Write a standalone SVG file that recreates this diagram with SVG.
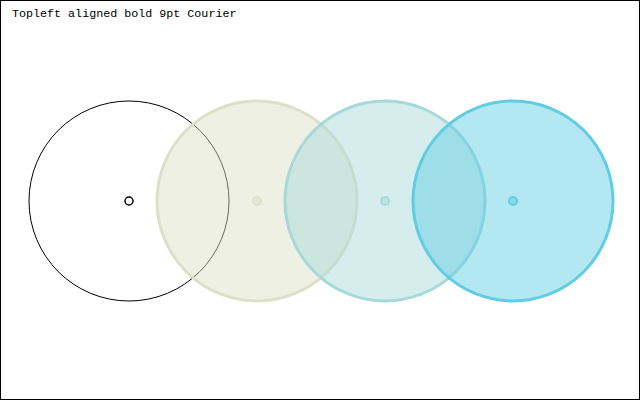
<svg xmlns="http://www.w3.org/2000/svg" width="640" height="400" viewBox="0 0 640 400">
<style>
.t{font-family:"Liberation Mono","Courier New",monospace;font-size:11.7px;fill:#000}
.c1{fill:none;stroke:#000;stroke-width:1}
.d1{fill:#fff;stroke:#000;stroke-width:1.5}
.big{stroke-width:3;fill-opacity:0.48}
.dot{stroke-width:2;fill-opacity:0.48}
.k2{fill:#dce0c7;stroke:#dce0c7}
.k3{fill:#a7d9d9;stroke:#a7d9d9}
.k4{fill:#61cde4;stroke:#61cde4}
</style>
<rect x="0.5" y="0.5" width="639" height="399" fill="#fff" stroke="#000"/>
<text class="t" x="12" y="17">Topleft aligned bold 9pt Courier</text>
<g id="circle1">
<circle class="c1" cx="129" cy="201" r="100"/>
<circle class="d1" cx="129" cy="201" r="4"/>
</g>
<g id="circle2">
<circle class="big k2" cx="257" cy="201" r="100"/>
<circle class="dot k2" cx="257" cy="201" r="4"/>
</g>
<g id="circle3">
<circle class="big k3" cx="385" cy="201" r="100"/>
<circle class="dot k3" cx="385" cy="201" r="4"/>
</g>
<g id="circle4">
<circle class="big k4" cx="513" cy="201" r="100"/>
<circle class="dot k4" cx="513" cy="201" r="4"/>
</g>
<g id="connectors"></g>
</svg>
